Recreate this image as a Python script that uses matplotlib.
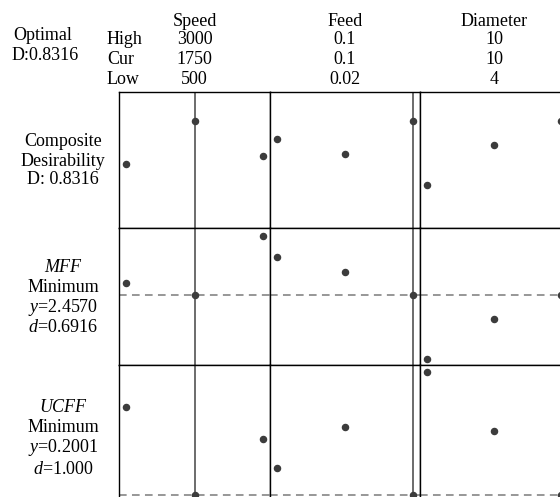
import matplotlib
matplotlib.use("Agg")
import matplotlib.pyplot as plt

plt.rcParams['font.family'] = ['Liberation Serif', 'DejaVu Serif']
plt.rcParams['mathtext.fontset'] = 'custom'
plt.rcParams['mathtext.rm'] = 'Liberation Serif'
plt.rcParams['mathtext.it'] = 'Liberation Serif:italic'

# factors: name, high, current, low
factors = ["Speed", "Feed", "Diameter"]
high_vals = ["3000", "0.1", "10"]
cur_vals = ["1750", "0.1", "10"]
low_vals = ["500", "0.02", "4"]

speed_levels = [500, 1750, 3000]
feed_levels = [0.02, 0.06, 0.1]
diam_levels = [4, 7, 10]
current = [1750, 0.1, 10]

# composite desirability
comp_speed = [0.496, 0.8316, 0.558]
comp_feed = [0.687, 0.571, 0.8316]
comp_diam = [0.331, 0.643, 0.8316]

# MFF response
mff_speed = [2.628, 2.457, 3.323]
mff_feed = [3.016, 2.788, 2.457]
mff_diam = [1.522, 2.106, 2.457]
mff_opt = 2.457

# UCFF response
ucff_speed = [0.830, 0.2001, 0.603]
ucff_feed = [0.396, 0.689, 0.2001]
ucff_diam = [1.078, 0.660, 0.2001]
ucff_opt = 0.2001

W, H = 560, 497
fig = plt.figure(figsize=(W / 100, H / 100), dpi=100)

col_edges = [119, 270, 420, 568]
row_edges = [92, 228, 365, 502]
levels = [speed_levels, feed_levels, diam_levels]
rows = [
    ([comp_speed, comp_feed, comp_diam], (0.0, 1.054), None),
    ([mff_speed, mff_feed, mff_diam], (1.435, 3.435), mff_opt),
    ([ucff_speed, ucff_feed, ucff_diam], (0.15, 1.13), ucff_opt),
]

dot_col = '#3c3c3c'
for r, (series, ylim, opt) in enumerate(rows):
    for c in range(3):
        x0, x1 = col_edges[c], col_edges[c + 1]
        y0, y1 = row_edges[r], row_edges[r + 1]
        ax = fig.add_axes([x0 / W, 1 - y1 / H, (x1 - x0) / W, (y1 - y0) / H])
        lv = levels[c]
        pad = (lv[-1] - lv[0]) * 0.055
        ax.set_xlim(lv[0] - pad, lv[-1] + pad)
        ax.set_ylim(*ylim)
        ax.axvline(current[c], color='#444444', lw=1.1, zorder=2)
        if opt is not None:
            ax.axhline(opt, color='#7a7a7a', lw=1.1, ls=(0, (5, 3.5)), zorder=1)
        ax.plot(lv, series[c], 'o', color=dot_col, ms=4.4, zorder=3, clip_on=False)
        ax.set_xticks([])
        ax.set_yticks([])
        for s in ax.spines.values():
            s.set_linewidth(1.0)
            s.set_color('black')

fs = 13

def txt(x, y, s, **kw):
    fig.text(x / W, 1 - y / H, s, fontsize=fs, va='center', **kw)

# header
txt(43, 35, "Optimal", ha='center')
txt(45, 56, "D:0.8316", ha='center')
txt(107, 39, "High", ha='left')
txt(107, 60, "Cur", ha='left')
txt(107, 80, "Low", ha='left')
for c in range(3):
    cx = (col_edges[c] + col_edges[c + 1]) / 2
    txt(cx, 21, factors[c], ha='center')
    txt(cx, 39, high_vals[c], ha='center')
    txt(cx, 60, cur_vals[c], ha='center')
    txt(cx, 80, low_vals[c], ha='center')

# row labels
txt(63, 142, "Composite", ha='center')
txt(63, 161, "Desirability", ha='center')
txt(63, 180, "D: 0.8316", ha='center')

txt(63, 268, "MFF", ha='center', style='italic')
txt(63, 287, "Minimum", ha='center')
txt(63, 307, "$y$=2.4570", ha='center')
txt(63, 328, "$d$=0.6916", ha='center')

txt(63, 408, "UCFF", ha='center', style='italic')
txt(63, 427, "Minimum", ha='center')
txt(63, 448, "$y$=0.2001", ha='center')
txt(63, 469, "$d$=1.000", ha='center')

fig.savefig("out.png", dpi=100)
